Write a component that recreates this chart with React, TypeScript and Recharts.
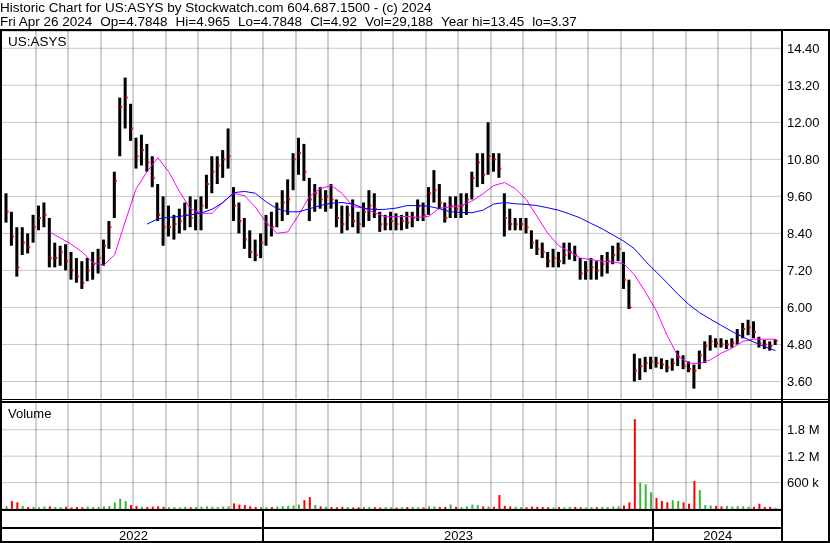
import { ComposedChart, Bar, Line, XAxis, YAxis, CartesianGrid, Cell } from 'recharts';

// Stockwatch style historic chart for US:ASYS, May 2022 - Apr 26 2024
// one bar per ~1/6 month (roughly 3-4 trading days)
const BARS_PER_MONTH = 6;
const monthLabels = [
  '2022-05', '2022-06', '2022-07', '2022-08', '2022-09', '2022-10', '2022-11', '2022-12',
  '2023-01', '2023-02', '2023-03', '2023-04', '2023-05', '2023-06', '2023-07', '2023-08',
  '2023-09', '2023-10', '2023-11', '2023-12', '2024-01', '2024-02', '2024-03', '2024-04',
];

const high = [
  9.7, 9.1, 8.6, 8.6, 8.4, 9.0, 9.3, 9.4, 8.9, 8.1, 8.0, 8.05, 7.8, 7.6, 7.5, 7.6, 7.8, 7.9, 8.2, 8.8,
  10.4, 12.8, 13.45, 12.6, 11.5, 11.6, 11.3, 10.9, 10.0, 9.6, 9.3, 9.0, 9.2, 9.4, 9.6, 9.5, 9.6, 10.3, 10.9, 10.9,
  11.1, 11.8, 9.9, 9.4, 8.9, 8.5, 8.2, 8.4, 9.0, 9.1, 9.4, 9.8, 10.15, 11.0, 11.5, 11.3, 10.2, 10.0, 9.9, 9.8,
  10.0, 9.5, 9.3, 9.3, 9.5, 9.1, 9.4, 9.8, 9.7, 9.1, 9.0, 9.1, 9.05, 9.0, 9.1, 9.1, 9.5, 9.4, 9.9, 10.45,
  10.0, 9.4, 9.6, 9.6, 9.7, 9.7, 10.4, 11.0, 11.0, 12.0, 11.0, 11.0, 9.7, 9.2, 8.9, 8.9, 8.9, 8.5, 8.2, 8.1,
  7.8, 7.9, 7.8, 8.1, 8.1, 8.0, 7.6, 7.5, 7.6, 7.5, 7.7, 7.8, 8.0, 8.1, 7.8, 6.9, 4.5, 4.35, 4.4, 4.4,
  4.4, 4.35, 4.3, 4.35, 4.6, 4.45, 4.25, 4.15, 4.6, 4.9, 5.1, 5.0, 5.0, 4.95, 5.0, 5.3, 5.5, 5.6, 5.55, 5.05,
  4.95, 4.9, 4.965,
];
const low = [
  8.75, 8.0, 7.0, 7.7, 7.75, 8.1, 8.5, 8.6, 7.3, 7.3, 7.35, 7.2, 6.9, 6.8, 6.6, 6.85, 6.9, 7.1, 7.35, 7.9,
  8.9, 10.9, 11.8, 11.4, 10.5, 10.6, 10.4, 9.9, 8.8, 8.0, 8.3, 8.2, 8.4, 8.5, 8.6, 8.5, 8.5, 9.2, 9.7, 10.0,
  10.2, 10.5, 8.8, 8.4, 7.9, 7.6, 7.5, 7.6, 8.0, 8.3, 8.6, 8.8, 9.0, 9.8, 10.3, 10.1, 8.8, 9.1, 9.2, 9.1,
  9.2, 8.6, 8.4, 8.5, 8.6, 8.4, 8.6, 8.8, 8.9, 8.45, 8.5, 8.5, 8.5, 8.5, 8.55, 8.6, 8.8, 8.8, 9.0, 9.4,
  9.2, 8.75, 8.9, 8.9, 8.9, 9.0, 9.5, 9.9, 10.0, 10.3, 10.4, 10.2, 8.3, 8.5, 8.5, 8.5, 8.4, 7.9, 7.7, 7.6,
  7.3, 7.3, 7.3, 7.4, 7.55, 7.5, 6.9, 6.9, 6.9, 6.9, 7.0, 7.1, 7.4, 7.5, 6.6, 5.95, 3.6, 3.65, 3.9, 4.0,
  4.05, 4.0, 3.9, 3.95, 4.1, 4.0, 3.9, 3.37, 4.0, 4.2, 4.6, 4.7, 4.7, 4.65, 4.7, 4.8, 5.0, 5.1, 5.0, 4.7,
  4.65, 4.6, 4.7848,
];
const close = [
  9.1, 8.3, 7.3, 8.1, 7.95, 8.6, 8.9, 9.0, 7.6, 7.6, 7.8, 7.5, 7.2, 7.0, 6.8, 7.2, 7.4, 7.6, 8.0, 8.6,
  10.1, 12.5, 12.8, 11.8, 10.9, 11.1, 10.7, 10.2, 9.0, 8.6, 8.6, 8.7, 8.8, 9.0, 8.9, 9.1, 9.3, 10.0, 10.4, 10.6,
  10.8, 10.9, 9.3, 8.8, 8.2, 7.8, 7.7, 8.1, 8.7, 8.6, 9.2, 9.4, 9.5, 10.8, 11.0, 10.4, 9.5, 9.7, 9.5, 9.6,
  9.5, 8.9, 8.7, 9.0, 8.8, 8.7, 9.1, 9.3, 9.2, 8.7, 8.7, 8.8, 8.7, 8.8, 8.75, 8.9, 9.3, 9.0, 9.7, 9.8,
  9.4, 8.9, 9.3, 9.2, 9.3, 9.5, 10.2, 10.7, 10.3, 10.9, 10.8, 10.5, 8.9, 8.7, 8.7, 8.7, 8.6, 8.1, 7.9, 7.8,
  7.5, 7.6, 7.5, 7.7, 7.8, 7.7, 7.1, 7.2, 7.3, 7.2, 7.4, 7.5, 7.7, 7.9, 6.9, 6.0, 3.95, 4.1, 4.2, 4.25,
  4.2, 4.15, 4.05, 4.2, 4.4, 4.1, 4.0, 3.95, 4.45, 4.75, 4.9, 4.85, 4.8, 4.8, 4.85, 5.1, 5.3, 5.35, 5.2, 4.85,
  4.8, 4.75, 4.92,
];
// volume in thousands of shares
const volume = [
  60, 180, 150, 70, 45, 50, 40, 55, 60, 45, 40, 50, 35, 45, 40, 55, 45, 50, 60, 70,
  150, 234, 180, 90, 70, 50, 45, 55, 60, 50, 40, 45, 35, 50, 40, 45, 55, 60, 50, 45,
  55, 60, 127, 100, 90, 60, 45, 50, 40, 45, 55, 60, 70, 80, 100, 200, 270, 90, 60, 50,
  45, 40, 50, 45, 35, 40, 50, 45, 40, 35, 45, 40, 35, 40, 45, 50, 40, 35, 60, 55,
  45, 50, 100, 50, 45, 60, 100, 90, 60, 55, 50, 318, 70, 60, 50, 45, 40, 55, 50, 45,
  40, 35, 45, 40, 50, 45, 40, 35, 45, 40, 50, 45, 55, 60, 80, 150, 2040, 600, 560, 380,
  250, 180, 150, 200, 180, 150, 120, 636, 430, 90, 80, 70, 60, 70, 55, 65, 60, 55, 50, 120,
  45, 50, 29,
];
// moving averages, one reading every second bar
const fastMa = [
  null, null, null, null, 8.45, 8.25, 8.05, 7.8, 7.45, 7.37, 7.7, 8.8, 9.85, 10.4, 10.85, 10.4, 9.75, 9.2,
  9.05, 9.05, 9.4, 9.7, 9.62, 9.25, 8.75, 8.4, 8.45, 9.0, 9.6, 9.85, 9.95, 9.7, 9.27, 9.22, 9.07, 8.94,
  8.94, 8.95, 8.92, 8.95, 9.22, 9.25, 9.3, 9.45, 9.68, 9.95, 10.05, 9.85, 9.5, 8.95, 8.4, 8.0, 7.8, 7.6,
  7.55, 7.5, 7.47, 7.42, 7.05, 6.5, 5.9, 5.1, 4.42, 4.2, 4.18, 4.3, 4.52, 4.68, 4.9, 4.97, 4.97, 4.97,
];
const slowMa = [
  null, null, null, null, null, null, null, null, null, null, null, null, null, 8.7, 8.87, 8.92, 8.95, 9.0,
  9.06, 9.18, 9.4, 9.72, 9.76, 9.7, 9.42, 9.2, 9.1, 9.1, 9.2, 9.3, 9.38, 9.4, 9.35, 9.22, 9.17, 9.18,
  9.22, 9.3, 9.3, 9.28, 9.2, 9.1, 9.08, 9.07, 9.15, 9.35, 9.4, 9.36, 9.34, 9.3, 9.23, 9.15, 9.03, 8.9,
  8.72, 8.55, 8.35, 8.15, 7.9, 7.5, 7.15, 6.8, 6.43, 6.1, 5.83, 5.62, 5.42, 5.22, 5.04, 4.88, 4.73, 4.6,
];

const priceTicks = [3.6, 4.2, 4.8, 5.4, 6.0, 6.6, 7.2, 7.8, 8.4, 9.0, 9.6, 10.2, 10.8, 11.4, 12.0, 12.6, 13.2, 13.8, 14.4];
const volumeTicks = [600, 1200, 1800];
const monthTicks = monthLabels.map((_, m) => m).filter((m) => m > 0);
const years = [
  { label: '2022', from: 0, to: 8 },
  { label: '2023', from: 8, to: 20 },
  { label: '2024', from: 20, to: 24 },
];
const headerFields = ['Fri Apr 26 2024', 'Op=4.7848', 'Hi=4.965', 'Lo=4.7848', 'Cl=4.92', 'Vol=29,188', 'Year hi=13.45', 'lo=3.37'];

const X_DOMAIN: [number, number] = [-0.046, 23.954];
const PLOT_LEFT = 2;
const PLOT_RIGHT = 782;
const monthX = (m: number) =>
  PLOT_LEFT + ((m - X_DOMAIN[0]) / (X_DOMAIN[1] - X_DOMAIN[0])) * (PLOT_RIGHT - PLOT_LEFT);

const rows = high.map((hi, i) => ({
  t: i / BARS_PER_MONTH + 1 / (2 * BARS_PER_MONTH),
  hi,
  lo: low[i],
  close: close[i],
  range: [low[i], hi],
  vol: volume[i],
  up: i === 0 || close[i] >= close[i - 1],
  fast: i % 2 === 0 ? fastMa[i / 2] : null,
  slow: i % 2 === 0 ? slowMa[i / 2] : null,
}));

const FONT = '"Liberation Sans", Arial, sans-serif';
const GRID = '#c8c8c8';

function OhlcBar(props: any) {
  const { x, y, width, height, payload } = props;
  const top = Math.min(y, y + height);
  const h = Math.abs(height);
  const span = payload.hi - payload.lo;
  const cy = top + (span > 0 ? (h * (payload.hi - payload.close)) / span : 0);
  return (
    <g>
      <rect x={x} y={top} width={width} height={Math.max(h, 1)} fill="#000" />
      <rect x={x + width - 1} y={cy - 1} width={2} height={2} fill="#ff0000" />
    </g>
  );
}

const rule = (key: string, style: React.CSSProperties, color = '#000') => (
  <div key={key} style={{ position: 'absolute', background: color, ...style }} />
);

// month gridlines laid over the charts; multiply blending keeps bars and lines on top visually
const monthGrid = (prefix: string, top: number, height: number) =>
  monthTicks.map((m) =>
    rule(prefix + m, { left: Math.round(monthX(m)) - 1, top, width: 2, height, mixBlendMode: 'multiply' }, '#d0d0d0'),
  );

export default function App() {
  return (
    <div style={{ position: 'relative', width: 830, height: 543, background: '#fff', overflow: 'hidden', fontFamily: FONT, color: '#000', isolation: 'isolate' }}>
      <style>{'body{margin:0}'}</style>

      <div style={{ position: 'absolute', left: 0, top: 0.5, fontSize: 13.5, lineHeight: '14.5px', whiteSpace: 'pre' }}>
        <div>Historic Chart for US:ASYS by Stockwatch.com 604.687.1500 - (c) 2024</div>
        <div>
          {headerFields.map((f, i) => (
            <span key={f} style={{ marginLeft: i === 0 ? 0 : 8 }}>{f}</span>
          ))}
        </div>
      </div>

      <div style={{ position: 'absolute', left: 0, top: 0 }}>
        <ComposedChart width={830} height={400} data={rows} margin={{ top: 31.3, right: 0, left: PLOT_LEFT, bottom: 0 }}>
          <CartesianGrid stroke={GRID} strokeWidth={1} vertical={false} />
          <XAxis type="number" dataKey="t" domain={X_DOMAIN} ticks={monthTicks} allowDataOverflow height={0} tick={false} axisLine={false} tickLine={false} />
          <YAxis
            orientation="right"
            width={48}
            domain={[3.0, 14.95]}
            allowDataOverflow
            ticks={priceTicks}
            tickFormatter={(v: number) => v.toFixed(2)}
            axisLine={false}
            tickLine={false}
            tickSize={0}
            tickMargin={5}
            tick={{ fontSize: 13, fill: '#000', fontFamily: FONT }}
          />
          <Bar dataKey="range" barSize={3} shape={OhlcBar} isAnimationActive={false} />
          <Line dataKey="fast" stroke="#ff00ff" strokeWidth={1} dot={false} connectNulls isAnimationActive={false} />
          <Line dataKey="slow" stroke="#0000ff" strokeWidth={1} dot={false} connectNulls isAnimationActive={false} />
        </ComposedChart>
      </div>

      <div style={{ position: 'absolute', left: 0, top: 402 }}>
        <ComposedChart width={830} height={107} data={rows} margin={{ top: 0, right: 0, left: PLOT_LEFT, bottom: 0 }}>
          <CartesianGrid stroke={GRID} strokeWidth={1} vertical={false} />
          <XAxis type="number" dataKey="t" domain={X_DOMAIN} ticks={monthTicks} allowDataOverflow height={0} tick={false} axisLine={false} tickLine={false} />
          <YAxis
            orientation="right"
            width={48}
            domain={[0, 2430]}
            allowDataOverflow
            ticks={volumeTicks}
            tickFormatter={(v: number) => (v < 1000 ? `${v} k` : `${v / 1000} M`)}
            axisLine={false}
            tickLine={false}
            tickSize={0}
            tickMargin={5}
            tick={{ fontSize: 13, fill: '#000', fontFamily: FONT }}
          />
          <Bar dataKey="vol" barSize={2} isAnimationActive={false}>
            {rows.map((r, i) => (
              <Cell key={i} fill={r.up ? '#3cb43c' : '#ff0000'} />
            ))}
          </Bar>
        </ComposedChart>
      </div>

      {monthGrid('gp', 31, 368)}
      {monthGrid('gv', 403, 106)}

      <div style={{ position: 'absolute', left: 8, top: 34.2, fontSize: 13.5 }}>US:ASYS</div>
      <div style={{ position: 'absolute', left: 8, top: 405.6, fontSize: 13 }}>Volume</div>

      {years.map((y) => (
        <div
          key={y.label}
          style={{
            position: 'absolute',
            left: monthX(Math.max(y.from, X_DOMAIN[0])),
            width: monthX(Math.min(y.to, X_DOMAIN[1])) - monthX(Math.max(y.from, X_DOMAIN[0])),
            top: 528,
            fontSize: 13,
            lineHeight: '15px',
            textAlign: 'center',
          }}
        >
          {y.label}
        </div>
      ))}
      {years.slice(1).map((y) => rule('y' + y.label, { left: monthX(y.from) - 1, top: 510, width: 2, height: 33 }))}

      {rule('top', { left: 0, top: 29, width: 830, height: 2 })}
      {rule('left', { left: 0, top: 29, width: 2, height: 514 })}
      {rule('right', { left: 828, top: 29, width: 2, height: 514 })}
      {rule('axis', { left: 781, top: 29, width: 2, height: 514 })}
      {rule('p1', { left: 0, top: 399, width: 830, height: 1 })}
      {rule('p2', { left: 0, top: 401, width: 830, height: 2 })}
      {rule('v1', { left: 0, top: 509, width: 782, height: 2 })}
      {rule('v2', { left: 0, top: 527, width: 782, height: 2 })}
      {rule('bottom', { left: 0, top: 541, width: 830, height: 2 })}
    </div>
  );
}
